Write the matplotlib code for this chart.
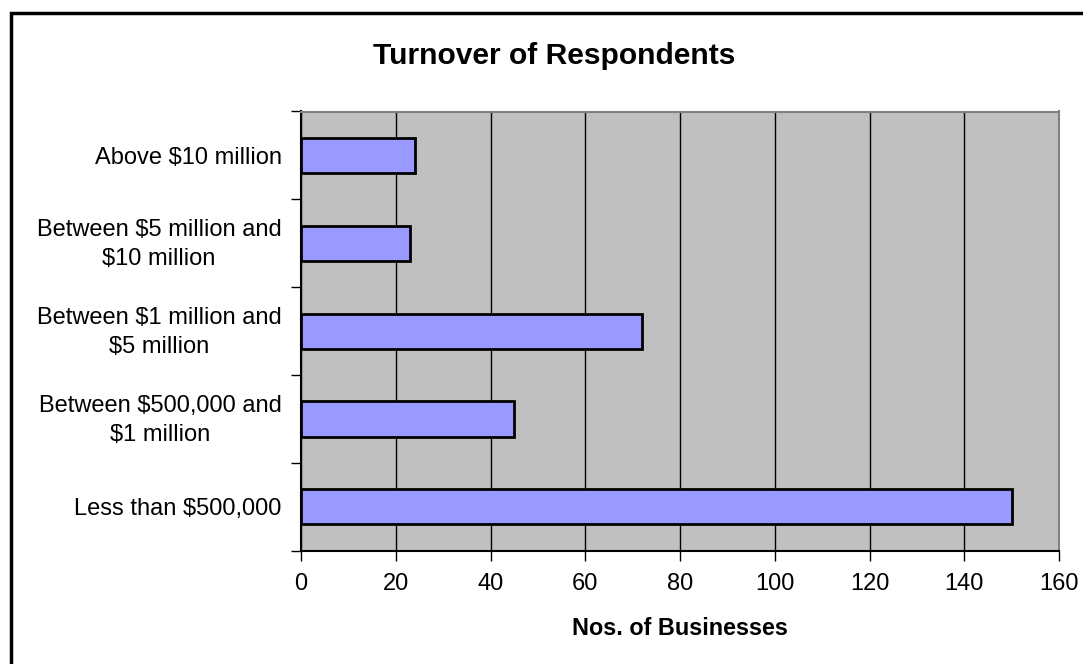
import matplotlib.pyplot as plt
from matplotlib.patches import Rectangle
from matplotlib.transforms import ScaledTranslation

categories = ["Less than $500,000", "Between $500,000 and\n$1 million",
              "Between $1 million and\n$5 million", "Between $5 million and\n$10 million",
              "Above $10 million"]
values = [150, 45, 72, 23, 24]
x_ticks = [0, 20, 40, 60, 80, 100, 120, 140, 160]

plt.rcParams['font.family'] = ['Liberation Sans', 'DejaVu Sans']

W, H = 1083, 664
fig = plt.figure(figsize=(W / 100, H / 100), dpi=100)

# outer chart frame (cut off at right/bottom like the source)
fig.patches.append(Rectangle((11 / W, -0.5), 2, 1.5 - 13 / H, transform=fig.transFigure,
                             fill=False, edgecolor='black', linewidth=2.5))

left, right, top, bottom = 301, 1059, 111.5, 550.7
ax = fig.add_axes([left / W, 1 - bottom / H, (right - left) / W, (bottom - top) / H])
ax.set_facecolor('#C0C0C0')

y = list(range(len(categories)))
ax.barh(y, values, height=0.4, color='#9999FF', edgecolor='black', linewidth=2, zorder=3)

ax.set_xlim(0, 160)
ax.set_ylim(-0.5, len(categories) - 0.5)
ax.set_xticks(x_ticks)
ax.xaxis.grid(True, color='black', linewidth=1, zorder=1)
ax.set_axisbelow(True)

ax.set_yticks(y)
ax.set_yticklabels(categories, fontsize=17, linespacing=1.41, ha='right',
                   multialignment='center')
ax.tick_params(axis='y', length=0, pad=14)
# two-line labels sit a bit high in the original
shift = ScaledTranslation(0, 0.045, fig.dpi_scale_trans)
for tick in ax.yaxis.get_major_ticks():
    if '\n' in tick.label1.get_text():
        tick.label1.set_transform(tick.label1.get_transform() + shift)

# boundary ticks between categories
ax.set_yticks([i - 0.5 for i in range(len(categories) + 1)], minor=True)
ax.tick_params(axis='y', which='minor', length=7, width=1, direction='out')
ax.tick_params(axis='x', length=7, width=1, direction='out', labelsize=17, pad=9)

for s in ['left', 'bottom']:
    ax.spines[s].set_color('black')
    ax.spines[s].set_linewidth(1.5)
for s in ['top', 'right']:
    ax.spines[s].set_color('#808080')
    ax.spines[s].set_linewidth(1.5)

ax.set_xlabel("Nos. of Businesses", fontsize=16.8, fontweight='bold', labelpad=16)
fig.text(554 / W, 1 - 56.5 / H, "Turnover of Respondents", fontsize=21.6, fontweight='bold',
         ha='center', va='center')

fig.savefig("out.png", dpi=100)
